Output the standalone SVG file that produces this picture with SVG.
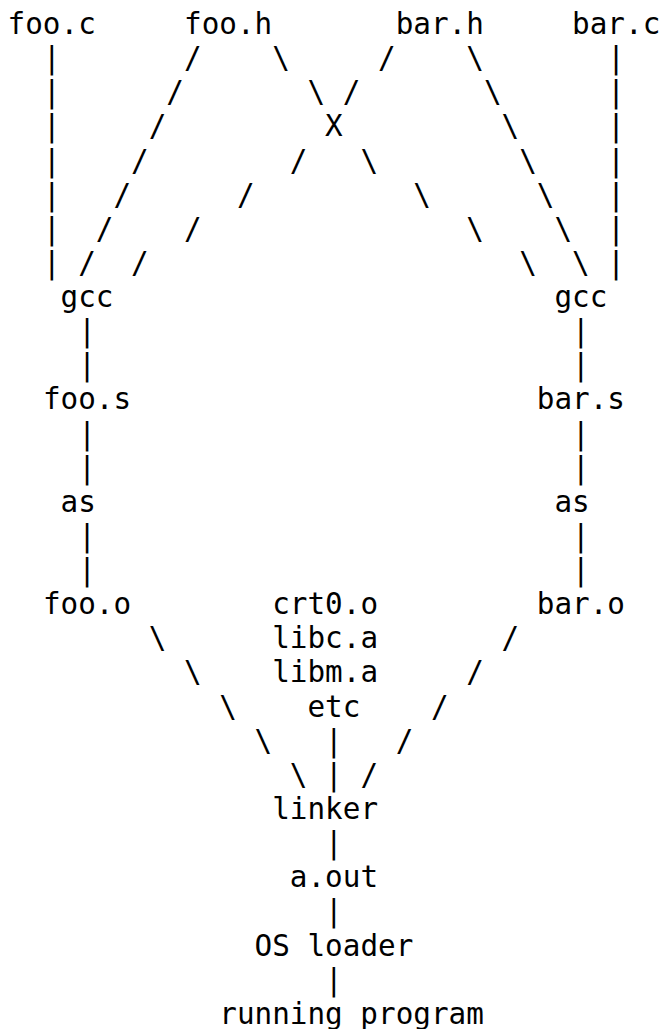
<svg xmlns="http://www.w3.org/2000/svg" width="662" height="1029" viewBox="0 0 662 1029">
<style>
text{font-family:"DejaVu Sans Mono","Liberation Mono",monospace;font-size:29.3px;fill:#000;white-space:pre}
</style>
<rect x="0" y="0" width="662" height="1029" fill="#fff"/>
<g id="nodes">
<g id="foo_c"><text x="7.6" y="34">foo.c</text></g>
<g id="foo_h"><text x="184" y="34">foo.h</text></g>
<g id="bar_h"><text x="395.68" y="34">bar.h</text></g>
<g id="bar_c"><text x="572.08" y="34">bar.c</text></g>
<g id="gcc_left"><text x="60.52" y="307.04">gcc</text></g>
<g id="gcc_right"><text x="554.44" y="307.04">gcc</text></g>
<g id="foo_s"><text x="42.88" y="409.43">foo.s</text></g>
<g id="bar_s"><text x="536.8" y="409.43">bar.s</text></g>
<g id="as_left"><text x="60.52" y="511.82">as</text></g>
<g id="as_right"><text x="554.44" y="511.82">as</text></g>
<g id="foo_o"><text x="42.88" y="614.21">foo.o</text></g>
<g id="bar_o"><text x="536.8" y="614.21">bar.o</text></g>
<g id="libs">
<text x="272.2" y="614.21">crt0.o</text>
<text x="272.2" y="648.34">libc.a</text>
<text x="272.2" y="682.47">libm.a</text>
<text x="307.48" y="716.6">etc</text>
</g>
<g id="linker"><text x="272.2" y="818.99">linker</text></g>
<g id="a_out"><text x="289.84" y="887.25">a.out</text></g>
<g id="os_loader"><text x="254.56" y="955.51">OS loader</text></g>
<g id="running_program"><text x="219.28" y="1023.77">running program</text></g>
</g>
<g id="connectors">
<!-- row 1 -->
<text x="42.88" y="68.13">|</text><text x="184" y="68.13">/</text><text x="272.2" y="68.13">\</text><text x="378.04" y="68.13">/</text><text x="466.24" y="68.13">\</text><text x="607.36" y="68.13">|</text>
<!-- row 2 -->
<text x="42.88" y="102.26">|</text><text x="166.36" y="102.26">/</text><text x="307.48" y="102.26">\</text><text x="342.76" y="102.26">/</text><text x="483.88" y="102.26">\</text><text x="607.36" y="102.26">|</text>
<!-- row 3 -->
<text x="42.88" y="136.39">|</text><text x="148.72" y="136.39">/</text><text x="325.12" y="136.39">X</text><text x="501.52" y="136.39">\</text><text x="607.36" y="136.39">|</text>
<!-- row 4 -->
<text x="42.88" y="170.52">|</text><text x="131.08" y="170.52">/</text><text x="289.84" y="170.52">/</text><text x="360.4" y="170.52">\</text><text x="519.16" y="170.52">\</text><text x="607.36" y="170.52">|</text>
<!-- row 5 -->
<text x="42.88" y="204.65">|</text><text x="113.44" y="204.65">/</text><text x="236.92" y="204.65">/</text><text x="413.32" y="204.65">\</text><text x="536.8" y="204.65">\</text><text x="607.36" y="204.65">|</text>
<!-- row 6 -->
<text x="42.88" y="238.78">|</text><text x="95.8" y="238.78">/</text><text x="184" y="238.78">/</text><text x="466.24" y="238.78">\</text><text x="554.44" y="238.78">\</text><text x="607.36" y="238.78">|</text>
<!-- row 7 -->
<text x="42.88" y="272.91">|</text><text x="78.16" y="272.91">/</text><text x="131.08" y="272.91">/</text><text x="519.16" y="272.91">\</text><text x="572.08" y="272.91">\</text><text x="607.36" y="272.91">|</text>
<!-- gcc to .s -->
<text x="78.16" y="341.17">|</text><text x="572.08" y="341.17">|</text>
<text x="78.16" y="375.3">|</text><text x="572.08" y="375.3">|</text>
<!-- .s to as -->
<text x="78.16" y="443.56">|</text><text x="572.08" y="443.56">|</text>
<text x="78.16" y="477.69">|</text><text x="572.08" y="477.69">|</text>
<!-- as to .o -->
<text x="78.16" y="545.95">|</text><text x="572.08" y="545.95">|</text>
<text x="78.16" y="580.08">|</text><text x="572.08" y="580.08">|</text>
<!-- to linker -->
<text x="148.72" y="648.34">\</text><text x="501.52" y="648.34">/</text>
<text x="184" y="682.47">\</text><text x="466.24" y="682.47">/</text>
<text x="219.28" y="716.6">\</text><text x="430.96" y="716.6">/</text>
<text x="254.56" y="750.73">\</text><text x="325.12" y="750.73">|</text><text x="395.68" y="750.73">/</text>
<text x="289.84" y="784.86">\</text><text x="325.12" y="784.86">|</text><text x="360.4" y="784.86">/</text>
<!-- linker down -->
<text x="325.12" y="853.12">|</text>
<text x="325.12" y="921.38">|</text>
<text x="325.12" y="989.64">|</text>
</g>
</svg>
